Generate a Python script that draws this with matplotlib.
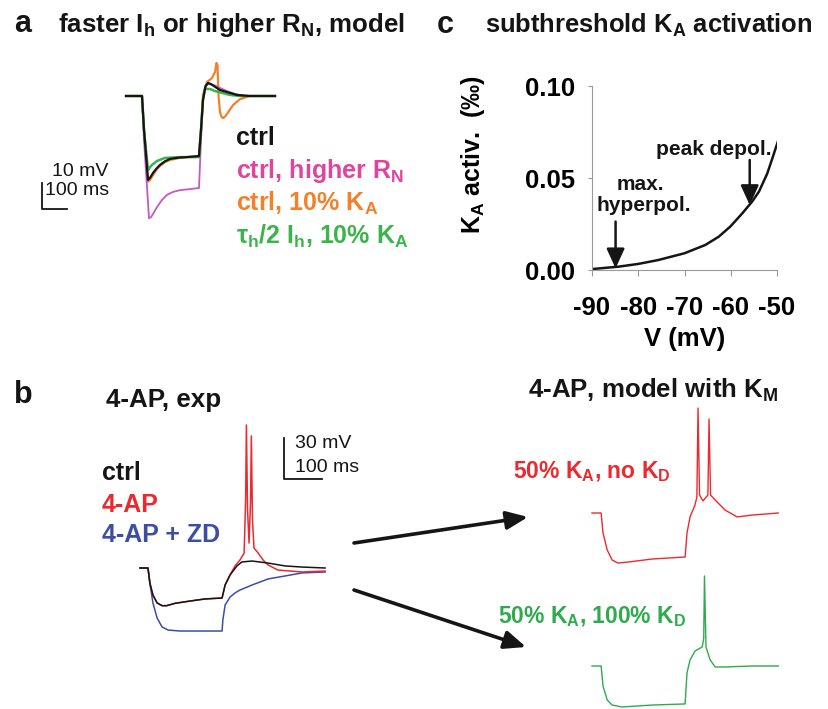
import numpy as np
import matplotlib
matplotlib.use('Agg')
import matplotlib.pyplot as plt

plt.rcParams['font.family'] = ['Liberation Sans', 'DejaVu Sans']
plt.rcParams['mathtext.fontset'] = 'custom'
plt.rcParams['mathtext.rm'] = 'Liberation Sans'
plt.rcParams['mathtext.bf'] = 'Liberation Sans:bold'
plt.rcParams['mathtext.it'] = 'Liberation Sans:italic'

W, H = 829, 709

# ---- panel a: model traces (ms, mV relative to rest)
a_t_black = [0, 64, 72, 88, 98, 108, 122, 136, 156, 176, 210, 244, 292, 300, 308, 318, 328, 340, 352, 376, 404, 444, 496, 596]
a_v_black = [0, 0, -13, -32.3, -31.2, -29.6, -27.9, -26.5, -25.1, -24.2, -23.7, -23.5, -23.1, -13, -1.5, 3.8, 5.0, 4.6, 3.8, 2.3, 1.5, 0.4, 0, 0]
a_t_pink = [0, 64, 72, 92, 100, 108, 124, 144, 164, 188, 216, 256, 292, 300, 308, 318, 328, 352, 376, 404, 436, 476, 596]
a_v_pink = [0, 0, -17, -47, -46.6, -45.4, -42.7, -40, -38, -36.9, -36.2, -35.8, -35.4, -17, -1.5, 3.5, 4.6, 4.2, 3.1, 1.9, 0.8, 0, 0]
a_t_orange = [0, 64, 72, 88, 98, 108, 122, 136, 156, 176, 210, 244, 292, 300, 308, 324, 344, 356, 362, 366, 370, 376, 382, 388, 396, 404, 428, 456, 496, 596]
a_v_orange = [0, 0, -13, -33, -32, -30.4, -28.4, -26.9, -25.4, -24.6, -23.9, -23.5, -23.1, -13, 0.4, 5.4, 6.9, 9.2, 12.7, 11.9, 0.4, -6.2, -8.0, -8.5, -7.9, -6.9, -3.5, -1.2, 0, 0]
a_t_green = [0, 64, 72, 88, 96, 104, 124, 156, 216, 292, 300, 308, 316, 336, 356, 384, 416, 456, 596]
a_v_green = [0, 0, -13, -28.5, -27.4, -26.5, -25, -23.8, -23.5, -23.5, -13, -1.5, 2.7, 2.7, 1.9, 1.2, 0.4, 0, 0]

# ---- panel b: experiment
b_t_ctrl = [0, 21, 26, 34, 45, 58, 70, 92, 132, 171, 216, 224, 237, 255, 268, 295, 337, 382, 426, 487]
b_v_ctrl = [0, 0, -11, -19.7, -25.5, -27.5, -27.5, -25.8, -24.1, -22.6, -21.9, -12.4, -5.1, 1.5, 4.4, 5.1, 3.6, 1.5, 0.7, 0]
b_t_4ap = [0, 21, 26, 34, 45, 58, 70, 92, 132, 171, 216, 224, 237, 250, 263, 274, 278, 280, 283,
           287, 291, 293, 296, 300, 311, 324, 337, 363, 395, 426, 487]
b_v_4ap = [0, 0, -11, -19.7, -25.5, -27.5, -27.5, -25.8, -24.1, -22.6, -21.9, -12.4, -5.1, 1.5, 5.8, 10.9, 49.6, 104.4, 42.3,
           18.2, 49.6, 96.4, 35, 14.6, 10.9, 5.8, 2.2, -1.5, -2.2, -2.9, -2.2]
b_t_zd = [0, 21, 26, 34, 45, 58, 74, 105, 213, 216, 218, 224, 237, 250, 263, 295, 337, 382, 426, 487]
b_v_zd = [0, 0, -11, -25.5, -36.5, -43, -45.3, -46, -46, -46, -38, -27, -21.2, -18.2, -16.1, -12.4, -8, -5.8, -3.6, -2.9]

# ---- panel b: model with K_M
m_t_noKD = [0, 24, 29, 40, 53, 68, 95, 158, 245, 250, 258, 271, 276, 279, 283, 292, 305, 308, 312, 324, 350, 382, 421, 490]
m_v_noKD = [0, 0, -14.6, -27, -34.3, -36.5, -35.8, -33.6, -32.1, -14.6, -2.9, 5.8, 11.7, 76.6, 13.1, 8.8, 13.1, 68.6, 13.1,
            9.5, 2.2, -2.9, -1.5, 0]
m_t_KD = [0, 24, 29, 40, 53, 79, 158, 245, 250, 258, 271, 290, 294, 296, 300, 311, 324, 350, 421, 490]
m_v_KD = [0, 0, -14.6, -24.8, -28.5, -29.9, -28.5, -27.7, -5.1, 4.4, 10.9, 13.9, 20, 65.7, 13.9, 4.4, -0.7, -0.7, 0, 0]

# ---- panel c: K_A activation curve
c_V = [-90, -84.3, -80, -75.7, -70, -65.5, -62.6, -60.1, -57.5, -55.4, -53.9, -52.1, -51, -49.7]
c_act = [0.0005, 0.0018, 0.0033, 0.0054, 0.0091, 0.0136, 0.0181, 0.0236, 0.0308, 0.0371, 0.0426, 0.0525, 0.0607, 0.0707]
c_xticks = [-90, -80, -70, -60, -50]
c_yticks = [0.00, 0.05, 0.10]

BLACK = '#151515'
PINK_T, PINK_L = '#e0449c', '#c657c3'
ORANGE = '#f5802a'
GREEN = '#3cb44b'
RED = '#ea2a2f'
BLUE = '#3b4ea3'
MGREEN = '#2faa4c'

fig = plt.figure(figsize=(W / 100, H / 100), dpi=100)


def px_axes(left, top, right, bottom, x0, y0, sx, sy):
    # axes placed in pixel box; (x0, y0) pixel maps to t=0, v=0
    ax = fig.add_axes([left / W, 1 - bottom / H, (right - left) / W, (bottom - top) / H])
    ax.set_xlim((left - x0) / sx, (right - x0) / sx)
    ax.set_ylim((y0 - bottom) / sy, (y0 - top) / sy)
    ax.axis('off')
    return ax


# panel a traces
axa = px_axes(30, 55, 290, 230, 126, 96, 0.25, 2.6)
axa.plot(a_t_orange, a_v_orange, color=ORANGE, lw=1.6)
axa.plot(a_t_pink, a_v_pink, color=PINK_L, lw=1.3)
axa.plot(a_t_green, a_v_green, color=GREEN, lw=1.8)
axa.plot(a_t_black, a_v_black, color=BLACK, lw=1.6)
sb_t, sb_v = -336, -43.5
axa.plot([sb_t, sb_t, sb_t + 100], [sb_v + 10, sb_v, sb_v], color=BLACK, lw=1.3)

# panel b experiment
axb = px_axes(130, 410, 340, 650, 140, 568, 0.38, 1.37)
axb.plot(b_t_zd, b_v_zd, color=BLUE, lw=1.1)
axb.plot(b_t_4ap, b_v_4ap, color=RED, lw=1.1)
axb.plot(b_t_ctrl, b_v_ctrl, color=BLACK, lw=1.1)
sb_t, sb_v = 379, 65
axb.plot([sb_t, sb_t, sb_t + 100], [sb_v + 30, sb_v, sb_v], color=BLACK, lw=1.3)

# panel b model
axm1 = px_axes(585, 400, 790, 575, 592, 513, 0.38, 1.37)
axm1.plot(m_t_noKD, m_v_noKD, color=RED, lw=1.0)
axm2 = px_axes(585, 565, 790, 709, 592, 666, 0.38, 1.37)
axm2.plot(m_t_KD, m_v_KD, color=MGREEN, lw=1.0)

# panel c
axc = fig.add_axes([592 / W, 1 - 270 / H, (777 - 592) / W, (270 - 86) / H])
axc.plot(c_V, c_act, color=BLACK, lw=1.8)
axc.set_xlim(-90, -50)
axc.set_ylim(0, 0.10)
axc.set_xticks(c_xticks)
axc.set_yticks(c_yticks)
axc.set_xticklabels([str(v) for v in c_xticks], fontsize=18.5, fontweight='bold')
axc.set_yticklabels(['%.2f' % v for v in c_yticks], fontsize=18.5, fontweight='bold')
for s in ['top', 'right']:
    axc.spines[s].set_visible(False)
for s in ['left', 'bottom']:
    axc.spines[s].set_color('#9a9a9a')
    axc.spines[s].set_linewidth(0.8)
axc.tick_params(axis='x', direction='out', length=4, color='#9a9a9a', pad=15)
axc.tick_params(axis='y', direction='out', length=3, color='#9a9a9a', pad=9)
axc.set_xlabel('V (mV)', fontsize=18.5, fontweight='bold', labelpad=5)
axc.set_ylabel(r'K$_\mathbf{A}$ activ.  (‰)', fontsize=18, fontweight='bold')
axc.yaxis.set_label_coords(-0.565, 0.625)
arrow_kw = dict(arrowstyle='-|>,head_length=1.2,head_width=0.55', color=BLACK, lw=1.8,
                shrinkA=0, shrinkB=0)
axc.annotate('', xy=(-84.9, 0.0009), xytext=(-84.9, 0.0263), arrowprops=arrow_kw)
axc.annotate('', xy=(-55.9, 0.0353), xytext=(-55.9, 0.0598), arrowprops=arrow_kw)

# overlay for text and big arrows
ov = fig.add_axes([0, 0, 1, 1])
ov.set_xlim(0, W)
ov.set_ylim(H, 0)
ov.axis('off')
ov.patch.set_alpha(0)

def T(x, y, s, color=BLACK, size=18, weight='bold', ha='left'):
    ov.text(x, y, s, color=color, fontsize=size, fontweight=weight, ha=ha, va='baseline')

T(14, 32, 'a', size=22)
T(58, 32, r'faster $\mathbf{I}_\mathbf{h}$ or higher $\mathbf{R}_\mathbf{N}$, model', size=18.6)
T(437, 33, 'c', size=22)
T(485, 33, r'subthreshold $\mathbf{K}_\mathbf{A}$ activation', size=18.4)
T(14, 403, 'b', size=22)
T(106, 407, '4-AP, exp', size=18.7)
T(528, 398, r'4-AP, model with $\mathbf{K}_\mathbf{M}$', size=18.6)

T(236, 145, 'ctrl')
T(236, 178, r'ctrl, higher $\mathbf{R}_\mathbf{N}$', color=PINK_T)
T(236, 211, r'ctrl, 10% $\mathbf{K}_\mathbf{A}$', color=ORANGE)
T(236, 244, r'τ$_\mathbf{h}$/2 $\mathbf{I}_\mathbf{h}$, 10% $\mathbf{K}_\mathbf{A}$', color=GREEN)
T(52, 176, '10 mV', size=14, weight='normal')
T(45, 195, '100 ms', size=14, weight='normal')

T(102, 480, 'ctrl')
T(102, 512, '4-AP', color=RED)
T(102, 542, '4-AP + ZD', color=BLUE)
T(295, 448, '30 mV', size=14, weight='normal')
T(295, 472, '100 ms', size=14, weight='normal')

T(513, 478, r'50% $\mathbf{K}_\mathbf{A}$, no $\mathbf{K}_\mathbf{D}$', color=RED, size=16.5)
T(498, 623, r'50% $\mathbf{K}_\mathbf{A}$, 100% $\mathbf{K}_\mathbf{D}$', color=MGREEN, size=16.5)

T(640, 190, 'max.', size=15, ha='center')
T(644, 211, 'hyperpol.', size=15, ha='center')
T(714, 155, 'peak depol.', size=15, ha='center')

big_arrow = dict(arrowstyle='-|>,head_length=1.3,head_width=0.55', color=BLACK, lw=2.6,
                 shrinkA=0, shrinkB=0)
ov.annotate('', xy=(528, 517), xytext=(354, 543), arrowprops=big_arrow)
ov.annotate('', xy=(526, 647), xytext=(354, 590), arrowprops=big_arrow)

fig.savefig('out.png', dpi=100)
